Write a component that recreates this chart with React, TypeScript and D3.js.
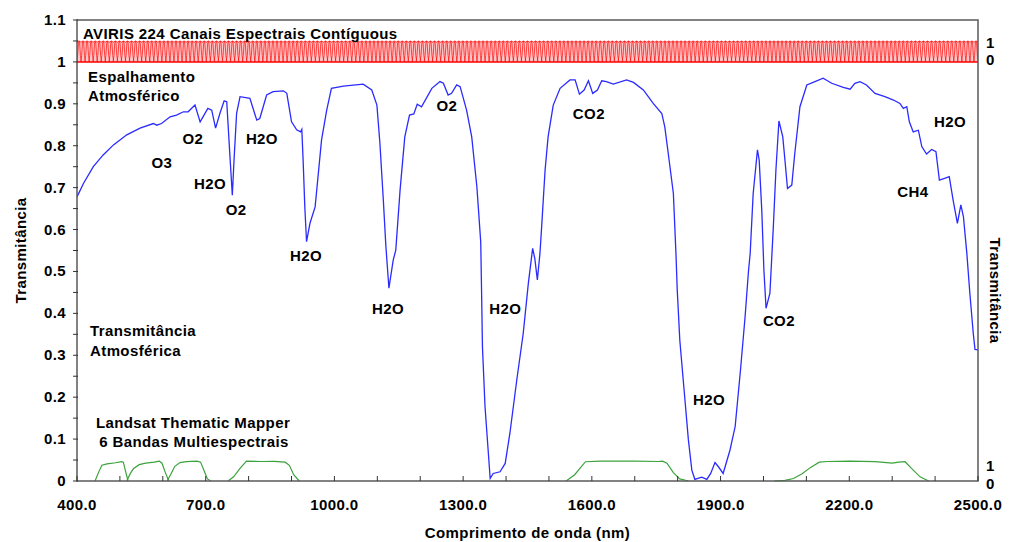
import React from "react";
import * as d3 from "d3";

// atmospheric transmittance, [wavelength nm, transmittance]
const transmittance: [number, number][] = [
  [400, 0.678], [415, 0.71], [438, 0.75], [461, 0.778], [485, 0.802], [516, 0.826], [547, 0.842],
  [578, 0.853], [586, 0.849], [597, 0.853], [617, 0.869], [632, 0.873], [648, 0.881], [659, 0.881],
  [675, 0.897], [687, 0.857], [705, 0.889], [714, 0.885], [723, 0.842], [733, 0.877], [743, 0.907],
  [749, 0.905], [757, 0.766], [762, 0.682], [766, 0.766], [772, 0.877], [780, 0.917], [803, 0.913],
  [819, 0.861], [826, 0.865], [842, 0.921], [857, 0.929], [881, 0.931], [889, 0.925], [900, 0.857],
  [912, 0.838], [921, 0.833], [924, 0.839], [927, 0.766], [931, 0.654], [935, 0.571], [943, 0.615],
  [955, 0.654], [970, 0.814], [982, 0.885], [993, 0.937], [1021, 0.942], [1067, 0.947], [1087, 0.933],
  [1099, 0.897], [1106, 0.806], [1114, 0.67], [1120, 0.559], [1127, 0.46], [1137, 0.527], [1143, 0.551],
  [1153, 0.694], [1164, 0.821], [1175, 0.873], [1185, 0.876], [1193, 0.899], [1203, 0.893], [1227, 0.937],
  [1246, 0.953], [1254, 0.949], [1265, 0.921], [1273, 0.925], [1285, 0.945], [1293, 0.941], [1308, 0.885],
  [1320, 0.821], [1332, 0.702], [1341, 0.57], [1343, 0.45], [1345, 0.32], [1351, 0.177], [1363, 0.006],
  [1370, 0.018], [1386, 0.022], [1398, 0.042], [1409, 0.114], [1425, 0.241], [1440, 0.352], [1452, 0.472],
  [1462, 0.555], [1467, 0.531], [1473, 0.48], [1479, 0.543], [1483, 0.607], [1491, 0.742], [1498, 0.821],
  [1510, 0.897], [1526, 0.937], [1549, 0.957], [1561, 0.957], [1571, 0.923], [1582, 0.933], [1592, 0.955],
  [1602, 0.925], [1613, 0.933], [1623, 0.955], [1634, 0.953], [1650, 0.947], [1681, 0.957], [1697, 0.951],
  [1720, 0.933], [1743, 0.901], [1763, 0.877], [1770, 0.845], [1778, 0.782], [1790, 0.686], [1796, 0.543],
  [1799, 0.456], [1805, 0.336], [1815, 0.217], [1825, 0.098], [1833, 0.026], [1840, 0.004], [1856, 0.009],
  [1868, 0.004], [1877, 0.018], [1887, 0.044], [1895, 0.034], [1906, 0.018], [1922, 0.074], [1934, 0.13],
  [1946, 0.26], [1957, 0.39], [1965, 0.5], [1969, 0.543], [1976, 0.686], [1986, 0.79], [1990, 0.766],
  [1996, 0.647], [2001, 0.503], [2006, 0.412], [2015, 0.448], [2023, 0.607], [2029, 0.742], [2036, 0.859],
  [2045, 0.821], [2050, 0.766], [2056, 0.698], [2066, 0.706], [2073, 0.782], [2085, 0.893], [2101, 0.945],
  [2120, 0.953], [2139, 0.961], [2159, 0.949], [2186, 0.939], [2202, 0.935], [2213, 0.949], [2225, 0.953],
  [2240, 0.945], [2260, 0.925], [2283, 0.917], [2303, 0.909], [2318, 0.901], [2326, 0.889], [2334, 0.893],
  [2340, 0.857], [2349, 0.833], [2361, 0.837], [2369, 0.798], [2380, 0.78], [2392, 0.791], [2402, 0.786],
  [2410, 0.718], [2422, 0.722], [2433, 0.726], [2442, 0.67], [2452, 0.615], [2460, 0.659], [2466, 0.631],
  [2474, 0.543], [2481, 0.448], [2489, 0.352], [2493, 0.314], [2500, 0.313],
];

// Landsat TM relative spectral response (0..1)
const tmBand1: [number, number][] = [[442, 0], [450, 0.4], [458, 0.75], [470, 0.82], [490, 0.87], [504, 0.92], [508, 0.9], [514, 0.4], [519, 0]];
const tmBand2: [number, number][] = [[516, 0], [524, 0.35], [532, 0.6], [545, 0.78], [560, 0.85], [580, 0.9], [592, 0.95], [598, 0.85], [606, 0.4], [614, 0]];
const tmBand3: [number, number][] = [[610, 0], [618, 0.3], [628, 0.7], [640, 0.88], [655, 0.92], [680, 0.95], [688, 0.9], [696, 0.5], [704, 0.1], [712, 0]];
const tmBand4: [number, number][] = [[752, 0], [765, 0.2], [780, 0.6], [795, 0.95], [830, 0.93], [860, 0.94], [885, 0.9], [895, 0.75], [905, 0.3], [918, 0]];
const tmBand5: [number, number][] = [[1540, 0], [1560, 0.3], [1585, 0.92], [1620, 0.95], [1700, 0.95], [1755, 0.93], [1765, 0.95], [1775, 0.85], [1790, 0.4], [1805, 0.1], [1825, 0]];
const tmBand7: [number, number][] = [[2025, 0], [2050, 0.03], [2070, 0.12], [2090, 0.35], [2110, 0.65], [2130, 0.9], [2150, 0.93], [2200, 0.95], [2260, 0.92], [2300, 0.85], [2315, 0.9], [2330, 0.92], [2345, 0.6], [2365, 0.2], [2385, 0]];
const tmBands = [tmBand1, tmBand2, tmBand3, tmBand4, tmBand5, tmBand7];

// AVIRIS: 224 contiguous channels between 400 and 2500 nm
const avirisCount = 224;
const avirisRange: [number, number] = [400, 2500];
// channel response shape, offset in channel widths vs response
const avirisShape: [number, number][] = [[-1.1, 0], [-0.85, 0.3], [-0.65, 0.9], [-0.45, 1], [0, 0.93], [0.45, 1], [0.65, 0.9], [0.85, 0.3], [1.1, 0]];

// absorption labels [text, wavelength, transmittance]
const gasLabels: [string, number, number][] = [
  ["O3", 598, 0.747], ["O2", 670, 0.804], ["H2O", 710, 0.697], ["O2", 771, 0.635],
  ["H2O", 831, 0.804], ["H2O", 934, 0.525], ["H2O", 1125, 0.398], ["O2", 1262, 0.883],
  ["CO2", 1593, 0.864], ["H2O", 1398, 0.398], ["H2O", 1873, 0.181], ["CO2", 2036, 0.37],
  ["CH4", 2348, 0.678], ["H2O", 2435, 0.845],
];

const xTicks = d3.range(400, 2501, 100);
const xLabels = [400, 700, 1000, 1300, 1600, 1900, 2200, 2500];
const yTicks = d3.range(0, 23).map(i => i * 0.05);
const yLabels = d3.range(0, 12).map(i => i / 10);

const W = 1013;
const H = 542;
const M = { top: 20, right: 35, bottom: 61, left: 77 };
const FONT = "'Liberation Sans', Arial, sans-serif";

export default function App() {
  const x = d3.scaleLinear().domain([400, 2500]).range([M.left, W - M.right]);
  const y = d3.scaleLinear().domain([0, 1.1]).range([H - M.bottom, M.top]);
  const yAviris = d3.scaleLinear().domain([0, 1]).range([y(1.0), y(1.05)]);
  const yTm = d3.scaleLinear().domain([0, 1]).range([y(0), y(0.05)]);

  const line = d3.line<[number, number]>().x(d => x(d[0])).y(d => y(d[1]));
  const tmLine = d3.line<[number, number]>().x(d => x(d[0])).y(d => yTm(d[1]));
  const avLine = d3.line<[number, number]>().x(d => x(d[0])).y(d => yAviris(d[1]));

  const step = (avirisRange[1] - avirisRange[0]) / (avirisCount - 1);
  const channels = d3.range(avirisCount).map(i => avirisRange[0] + i * step);
  const x0 = x(400), x1 = x(2500), yb = y(0), yt = y(1.1);

  const fmtY = (v: number) => String(+v.toFixed(1));

  return (
    <svg width={W} height={H} style={{ position: "absolute", left: 0, top: 0, background: "#fff" }}
      fontFamily={FONT} fontWeight="bold" letterSpacing={0.4}>
      <defs>
        <clipPath id="plot">
          <rect x={x0} y={yt} width={x1 - x0} height={yb - yt} />
        </clipPath>
      </defs>

      {/* AVIRIS channels */}
      <g clipPath="url(#plot)">
        <rect x={x0} y={yAviris(1)} width={x1 - x0} height={yAviris(0) - yAviris(1)} fill="#ffc8c8" />
        {channels.map((c, i) => (
          <path key={i} d={avLine(avirisShape.map(([o, r]) => [c + o * step, r] as [number, number])) || ""}
            fill="none" stroke="#ff1010" strokeWidth={1} strokeOpacity={0.75} />
        ))}
        <line x1={x0} x2={x1} y1={yAviris(0)} y2={yAviris(0)} stroke="#ff0000" strokeWidth={1.5} />
      </g>

      {/* Landsat TM bands */}
      {tmBands.map((b, i) => (
        <path key={i} d={tmLine(b) || ""} fill="none" stroke="#3ca33c" strokeWidth={1.2} />
      ))}

      {/* transmittance */}
      <path d={line(transmittance) || ""} fill="none" stroke="#2b2bff" strokeWidth={1.3} clipPath="url(#plot)" />

      {/* frame */}
      <rect x={x0} y={yt} width={x1 - x0} height={yb - yt} fill="none" stroke="#5a5a5a" strokeWidth={1.5} />

      {/* x axis */}
      {xTicks.map(t => (
        <line key={t} x1={x(t)} x2={x(t)} y1={yb} y2={yb - 5} stroke="#333" strokeWidth={1} />
      ))}
      {xLabels.map(t => (
        <text key={t} x={x(t)} y={yb + 29} textAnchor="middle" fontSize={15}>{t.toFixed(1)}</text>
      ))}
      <text x={(x0 + x1) / 2} y={H - 4} textAnchor="middle" fontSize={15}>Comprimento de onda (nm)</text>

      {/* y axis */}
      {yTicks.map((t, i) => (
        <line key={i} x1={x0 - 4} x2={x0 + 1} y1={y(t)} y2={y(t)} stroke="#333" strokeWidth={1} />
      ))}
      {yLabels.map((t, i) => (
        <text key={i} x={x0 - 11} y={y(t) + 5} textAnchor="end" fontSize={15}>{fmtY(t)}</text>
      ))}
      <text transform={`translate(26,${(yt + yb) / 2}) rotate(-90)`} textAnchor="middle" fontSize={15}>Transmitância</text>
      <text transform={`translate(990,${(yt + yb) / 2 + 40}) rotate(90)`} textAnchor="middle" fontSize={15}>Transmitância</text>

      {/* right mini scales */}
      <text x={x1 + 8} y={y(1.045) + 5} fontSize={15}>1</text>
      <text x={x1 + 8} y={y(1.005) + 5} fontSize={15}>0</text>
      <text x={x1 + 8} y={y(0.036) + 5} fontSize={15}>1</text>
      <text x={x1 + 8} y={y(-0.007) + 5} fontSize={15}>0</text>

      {/* text blocks */}
      <text x={x0 + 6} y={yt + 19} fontSize={15}>AVIRIS 224 Canais Espectrais Contíguous</text>
      <text x={x0 + 11} y={yt + 62} fontSize={15}>Espalhamento</text>
      <text x={x0 + 11} y={yt + 81} fontSize={15}>Atmosférico</text>
      <text x={x0 + 13} y={yt + 316} fontSize={15}>Transmitância</text>
      <text x={x0 + 13} y={yt + 336} fontSize={15}>Atmosférica</text>
      <text x={x0 + 116} y={yt + 408} textAnchor="middle" fontSize={15}>Landsat Thematic Mapper</text>
      <text x={x0 + 117} y={yt + 427} textAnchor="middle" fontSize={15}>6 Bandas Multiespectrais</text>

      {gasLabels.map(([s, nm, t], i) => (
        <text key={i} x={x(nm)} y={y(t)} textAnchor="middle" fontSize={15}>{s}</text>
      ))}
    </svg>
  );
}
